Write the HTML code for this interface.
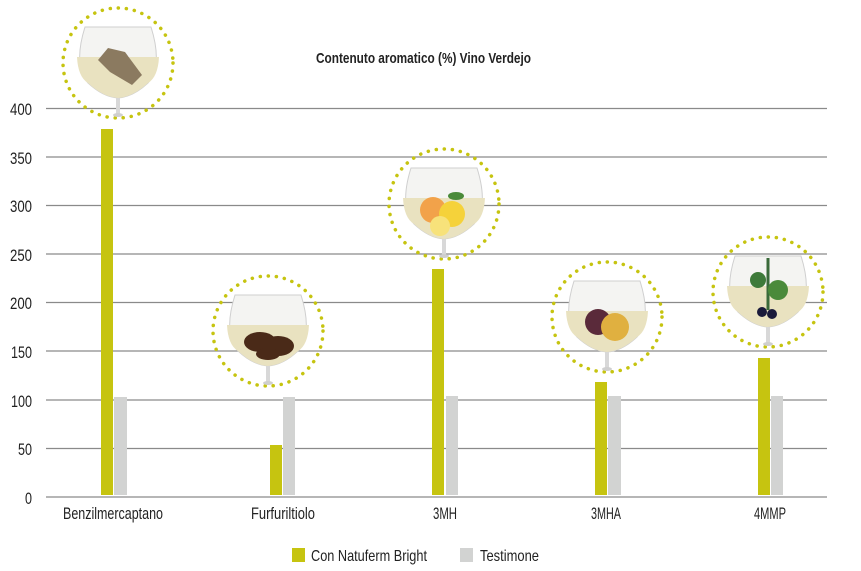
<!DOCTYPE html>
<html><head><meta charset="utf-8"><style>
html,body{margin:0;padding:0;background:#fff;}
svg{display:block;font-family:"Liberation Sans",sans-serif;}
</style></head><body>
<svg width="861" height="571" viewBox="0 0 861 571">
<defs>
<g id="glass">
  <path d="M-33,-38 Q-45,0 -30,18 Q-15,32 0,33 Q15,32 30,18 Q45,0 33,-38 Z" fill="#f4f4f2" stroke="#cfcfcf" stroke-width="1"/>
  <path d="M-41,-8 Q-40,12 -30,18 Q-15,32 0,33 Q15,32 30,18 Q40,12 41,-8 Z" fill="#e9e2c0"/>
  <rect x="-2" y="33" width="4" height="16" fill="#d8d8d8"/>
  <ellipse cx="0" cy="50" rx="5" ry="2" fill="#cfcfcf"/>
</g>
</defs>
<g stroke="#8a8a8a" stroke-width="1.3">
<line x1="46" y1="108.5" x2="827" y2="108.5"/>
<line x1="46" y1="157" x2="827" y2="157"/>
<line x1="46" y1="205.5" x2="827" y2="205.5"/>
<line x1="46" y1="254" x2="827" y2="254"/>
<line x1="46" y1="302.5" x2="827" y2="302.5"/>
<line x1="46" y1="351" x2="827" y2="351"/>
<line x1="46" y1="400" x2="827" y2="400"/>
<line x1="46" y1="448.5" x2="827" y2="448.5"/>
<line x1="46" y1="497" x2="827" y2="497"/>
</g>
<g font-size="17" fill="#222" lengthAdjust="spacingAndGlyphs">
<text x="10" y="115" textLength="22" lengthAdjust="spacingAndGlyphs">400</text>
<text x="10" y="164" textLength="22" lengthAdjust="spacingAndGlyphs">350</text>
<text x="10" y="212" textLength="22" lengthAdjust="spacingAndGlyphs">300</text>
<text x="10" y="261" textLength="22" lengthAdjust="spacingAndGlyphs">250</text>
<text x="10" y="309" textLength="22" lengthAdjust="spacingAndGlyphs">200</text>
<text x="11" y="358" textLength="21" lengthAdjust="spacingAndGlyphs">150</text>
<text x="11" y="407" textLength="21" lengthAdjust="spacingAndGlyphs">100</text>
<text x="18" y="455" textLength="14" lengthAdjust="spacingAndGlyphs">50</text>
<text x="25" y="504" textLength="7" lengthAdjust="spacingAndGlyphs">0</text>
</g>
<g fill="none" stroke="#c6c410" stroke-width="3.5" stroke-dasharray="0.1 8" stroke-linecap="round">
<circle cx="118" cy="63" r="55"/>
<circle cx="268" cy="331" r="55"/>
<circle cx="444" cy="204" r="55"/>
<circle cx="607" cy="317" r="55"/>
<circle cx="768" cy="292" r="55"/>
</g>
<use href="#glass" x="118" y="65"/>
<use href="#glass" x="268" y="333"/>
<use href="#glass" x="444" y="206"/>
<use href="#glass" x="607" y="319"/>
<use href="#glass" x="768" y="294"/>
<path d="M98,60 L108,48 L125,52 L142,75 L132,85 L110,72 Z" fill="#8b7a60"/>
<g fill="#4a2a18"><ellipse cx="260" cy="342" rx="16" ry="10"/><ellipse cx="278" cy="346" rx="16" ry="10"/><ellipse cx="268" cy="354" rx="12" ry="6"/></g>
<g><circle cx="433" cy="210" r="13" fill="#f2a24a"/><circle cx="452" cy="214" r="13" fill="#f5d23a"/><circle cx="440" cy="226" r="10" fill="#f7e27a"/><ellipse cx="456" cy="196" rx="8" ry="4" fill="#4a8a3a"/></g>
<g><circle cx="598" cy="322" r="13" fill="#5a2a3a"/><circle cx="615" cy="327" r="14" fill="#e0b040"/></g>
<g><path d="M768,258 L768,310" stroke="#3a6a3a" stroke-width="3"/><circle cx="758" cy="280" r="8" fill="#3e7a3a"/><circle cx="778" cy="290" r="10" fill="#4a8a3a"/><circle cx="762" cy="312" r="5" fill="#1a1a3a"/><circle cx="772" cy="314" r="5" fill="#1a1a3a"/></g>
<g fill="#c6c410">
<rect x="101" y="129" width="12" height="366"/>
<rect x="270" y="445" width="12" height="50"/>
<rect x="432" y="269" width="12" height="226"/>
<rect x="595" y="382" width="12" height="113"/>
<rect x="758" y="358" width="12" height="137"/>
</g>
<g fill="#d2d3d2">
<rect x="114" y="397" width="13" height="98"/>
<rect x="283" y="397" width="12" height="98"/>
<rect x="446" y="396" width="12" height="99"/>
<rect x="608" y="396" width="13" height="99"/>
<rect x="771" y="396" width="12" height="99"/>
</g>
<g font-size="17" fill="#222">
<text x="63" y="519" textLength="100" lengthAdjust="spacingAndGlyphs">Benzilmercaptano</text>
<text x="251" y="519" textLength="64" lengthAdjust="spacingAndGlyphs">Furfuriltiolo</text>
<text x="433" y="519" textLength="24" lengthAdjust="spacingAndGlyphs">3MH</text>
<text x="591" y="519" textLength="30" lengthAdjust="spacingAndGlyphs">3MHA</text>
<text x="754" y="519" textLength="32" lengthAdjust="spacingAndGlyphs">4MMP</text>
</g>
<text x="316" y="63" font-size="15" font-weight="bold" fill="#222" textLength="215" lengthAdjust="spacingAndGlyphs">Contenuto aromatico (%) Vino Verdejo</text>
<rect x="292" y="548" width="13" height="14" fill="#c6c410"/>
<text x="311" y="561" font-size="16" fill="#222" textLength="116" lengthAdjust="spacingAndGlyphs">Con Natuferm Bright</text>
<rect x="460" y="548" width="13" height="14" fill="#d2d3d2"/>
<text x="480" y="561" font-size="16" fill="#222" textLength="59" lengthAdjust="spacingAndGlyphs">Testimone</text>
</svg>
</body></html>
